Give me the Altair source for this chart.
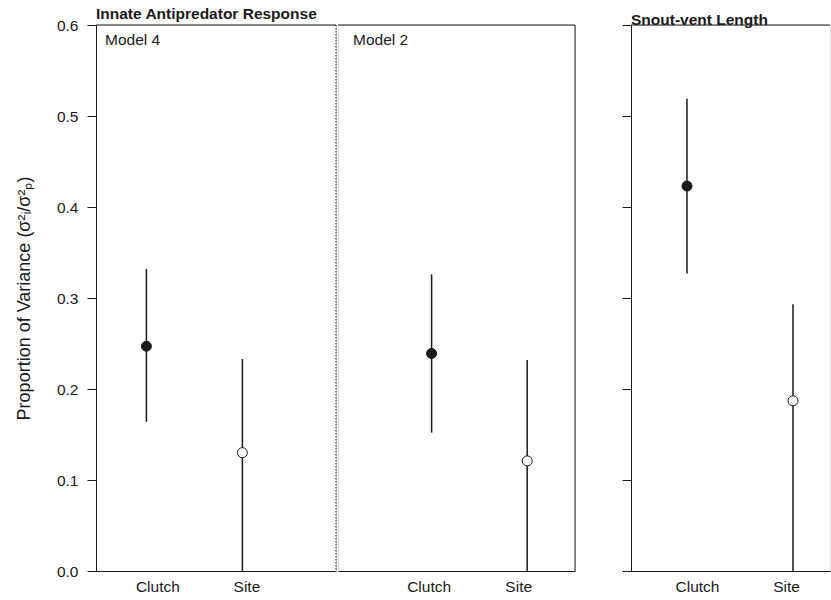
import altair as alt
import pandas as pd

# ---- data ----
panels = ["Model 4", "Model 4", "Model 2", "Model 2", "Snout-vent Length", "Snout-vent Length"]
effects = ["Clutch", "Site", "Clutch", "Site", "Clutch", "Site"]
estimate = [0.247, 0.130, 0.239, 0.121, 0.423, 0.187]
lower = [0.164, 0.000, 0.152, 0.000, 0.327, 0.000]
upper = [0.332, 0.233, 0.326, 0.232, 0.519, 0.293]
effect_order = ["Clutch", "Site"]
y_ticks = [0.0, 0.1, 0.2, 0.3, 0.4, 0.5, 0.6]
group_title = "Innate Antipredator Response"
svl_title = "Snout-vent Length"
y_title = "Proportion of Variance (σ²ᵢ/σ²ₚ)"

df = pd.DataFrame({"panel": panels, "effect": effects, "estimate": estimate,
                   "lower": lower, "upper": upper})

FONT = "Liberation Sans"
INK = "#1a1a1a"
H = 546
FS = 15.5
yscale = alt.Scale(domain=[0, 0.6], nice=False, zero=False)


def make_panel(name, width, pad, align, yaxis, title, label_x, right_border, offs):
    d = df[df.panel == name]
    base = alt.Chart(d)
    xenc = alt.X("effect:N",
                 scale=alt.Scale(type="point", domain=effect_order, padding=pad, align=align),
                 axis=alt.Axis(title=None, ticks=False, labelAngle=0, domainColor=INK,
                               domainWidth=1, labelFontSize=FS, labelPadding=8,
                               labelColor=INK, grid=False, labelFont=FONT,
                               labelOffset={"condition": {"test": "datum.value === 'Clutch'",
                                                          "value": offs[0]},
                                            "value": offs[1]}))
    bars = base.mark_rule(color=INK, strokeWidth=1.5).encode(
        x=xenc, y=alt.Y("lower:Q", scale=yscale, axis=yaxis), y2="upper:Q")
    pts = base.mark_point(shape="circle", size=100, filled=True, stroke=INK,
                          strokeWidth=1, opacity=1).encode(
        x=xenc, y=alt.Y("estimate:Q", scale=yscale, axis=yaxis),
        fill=alt.Fill("effect:N", scale=alt.Scale(domain=effect_order, range=[INK, "white"]),
                      legend=None))
    one = alt.Chart(pd.DataFrame({"panel": [name]}))
    top = one.mark_rule(color=INK, strokeWidth=1).encode(
        x=alt.value(0), x2=alt.value(width), y=alt.value(0))
    layers = [top, bars, pts]
    if right_border == "dotted":
        layers.append(one.mark_rule(color=INK, strokeWidth=1, strokeDash=[1.5, 1.5]).encode(
            x=alt.value(width), y=alt.value(0), y2=alt.value(H)))
    elif right_border == "solid":
        layers.append(one.mark_rule(color=INK, strokeWidth=1).encode(
            x=alt.value(width), y=alt.value(0), y2=alt.value(H)))
    if label_x is not None:
        layers.append(one.mark_text(align="left", baseline="alphabetic", fontSize=FS,
                                    font=FONT, color=INK).encode(
            text="panel:N", x=alt.value(label_x), y=alt.value(20)))
    return alt.layer(*layers).properties(
        width=width, height=H,
        title=alt.TitleParams(title, anchor="start", frame="group", fontSize=FS,
                              fontWeight="bold", font=FONT, color=INK, offset=-4))


yaxis_main = alt.Axis(values=y_ticks, format=".1f", tickSize=9, tickColor=INK,
                      domainColor=INK, labelFontSize=FS, labelPadding=9, labelColor=INK,
                      labelFont=FONT, title=y_title, titleFontSize=18,
                      titleFontWeight="normal", titleFont=FONT, titleColor=INK,
                      titlePadding=23, grid=False)
yaxis_ticks_only = alt.Axis(values=y_ticks, labels=False, tickSize=9, tickColor=INK,
                            domainColor=INK, title=None, grid=False)

A = make_panel("Model 4", 240, 0.75, 0.35, yaxis_main, group_title, 9, "dotted", (11, 4))
B = make_panel("Model 2", 237, 0.7396, 0.662, None, " ", 15, "solid", (-3, -9))
C = make_panel("Snout-vent Length", 199, 0.4387, 0.602, yaxis_ticks_only, svl_title, None,
               None, (10, -7))

chart = alt.hconcat(alt.hconcat(A, B, spacing=0), C, spacing=45).properties(
    padding={"left": 14, "top": 6, "right": 0, "bottom": 0},
    background="white",
).configure_view(stroke="transparent").configure(font=FONT)

chart.save("out.html", embed_options={"renderer": "svg", "actions": False})
